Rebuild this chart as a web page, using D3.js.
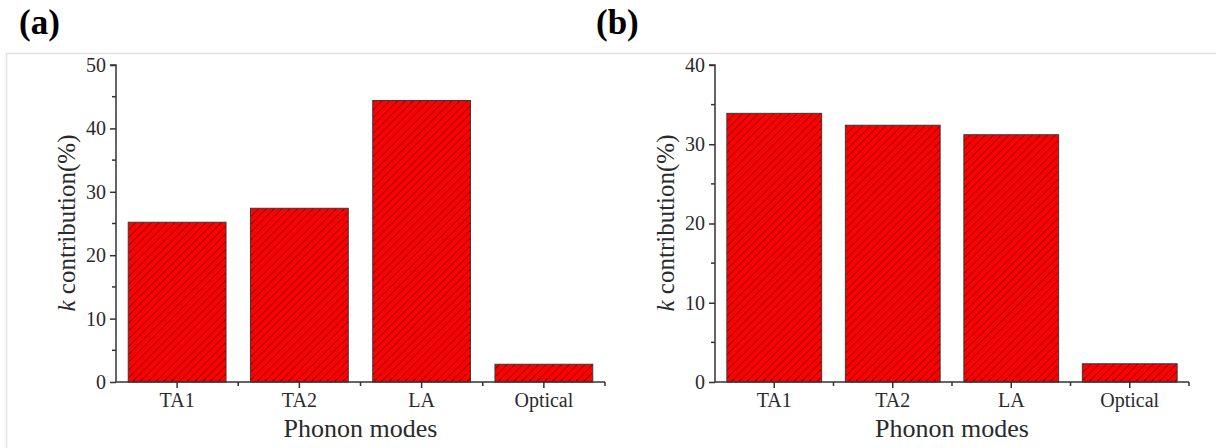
<!DOCTYPE html>
<html><head><meta charset="utf-8">
<script src="https://cdn.jsdelivr.net/npm/d3@7"></script>
<style>body{margin:0;background:#fff}svg{display:block}</style>
</head><body>
<svg id="c" width="1217" height="448"></svg>
<script>
const categories = ["TA1", "TA2", "LA", "Optical"];
const valuesA = [25.2, 27.4, 44.4, 2.8];
const valuesB = [33.9, 32.4, 31.2, 2.3];
const ticksA = [0, 10, 20, 30, 40, 50];
const ticksB = [0, 10, 20, 30, 40];
const panelLabels = ["(a)", "(b)"];
const xTitle = "Phonon modes";

const svg = d3.select("#c");
const defs = svg.append("defs");
const pat = defs.append("pattern").attr("id","hatch").attr("patternUnits","userSpaceOnUse")
  .attr("width",5.5).attr("height",5.5).attr("patternTransform","rotate(45)");
pat.append("rect").attr("width",5.5).attr("height",5.5).attr("fill","#ff0000");
pat.append("line").attr("x1",0).attr("y1",0).attr("x2",0).attr("y2",5.5)
  .attr("stroke","#5a0000").attr("stroke-width",1.3);

// frame
svg.append("path").attr("d","M6.5,448 L6.5,53.5 L1216,53.5").attr("fill","none").attr("stroke","#e2e2e2").attr("stroke-width",1.5);

const serif = "'Liberation Serif','Times New Roman',serif";
const textCol = "#2a2a2a";

function panel(cfg){
  const g = svg.append("g");
  const x = d3.scaleBand().domain(categories).range([cfg.x0, cfg.x1]).paddingInner(0.2).paddingOuter(0.1);
  const y = d3.scaleLinear().domain([0, cfg.max]).range([382, 65]);
  g.selectAll("rect.bar").data(cfg.values).join("rect")
    .attr("x",(d,i)=>x(categories[i])).attr("width",x.bandwidth())
    .attr("y",d=>y(d)).attr("height",d=>y(0)-y(d))
    .attr("fill","url(#hatch)").attr("stroke","#3a3a3a").attr("stroke-width",1);
  const ya = d3.axisLeft(y).tickValues(cfg.ticks).tickSize(6).tickPadding(4).tickFormat(d3.format("d"));
  const yg = g.append("g").attr("transform",`translate(${cfg.x0},0)`).call(ya);
  const minor = d3.range(5, cfg.max, 10);
  g.append("g").selectAll("line").data(minor).join("line")
    .attr("x1",cfg.x0-4).attr("x2",cfg.x0).attr("y1",d=>y(d)).attr("y2",d=>y(d))
    .attr("stroke","#333").attr("stroke-width",1.5);
  const xa = d3.axisBottom(x).tickSize(6).tickPadding(5);
  const xg = g.append("g").attr("transform",`translate(0,${y(0)})`).call(xa);
  const bounds = [1,2,3].map(i=> (x(categories[i-1]) + x.bandwidth() + x(categories[i]))/2);
  bounds.push(cfg.x1);
  g.append("g").selectAll("line").data(bounds).join("line")
    .attr("x1",d=>d).attr("x2",d=>d).attr("y1",y(0)).attr("y2",y(0)+4)
    .attr("stroke","#333").attr("stroke-width",1.5);
  [yg,xg].forEach(a=>{
    a.attr("font-size",null).attr("font-family",null);
    a.select(".domain").attr("stroke","#333").attr("stroke-width",1.5);
    a.selectAll(".tick line").attr("stroke","#333").attr("stroke-width",1.5);
    a.selectAll(".tick text").style("font-family",serif).style("font-size","20px").attr("fill",textCol);
  });
  yg.select(".domain").attr("d",`M-6,${y(cfg.max)}H0V${y(0)}`);
  xg.select(".domain").attr("d",`M${cfg.x0},0H${cfg.x1}`);
  g.append("text").attr("x",(cfg.x0+cfg.x1)/2).attr("y",437).attr("text-anchor","middle")
    .style("font-family",serif).style("font-size","26px").attr("fill",textCol).text(xTitle);
  const yt = g.append("text").attr("transform",`translate(${cfg.ylx},223) rotate(-90)`)
    .attr("text-anchor","middle").style("font-family",serif).style("font-size","25px").attr("fill",textCol);
  yt.append("tspan").attr("font-style","italic").text("k");
  yt.append("tspan").text(" contribution(%)");
  svg.append("text").attr("x",cfg.lx).attr("y",34).style("font-family",serif)
    .attr("font-weight","bold").style("font-size","35px").attr("fill","#000").text(cfg.label);
}
panel({x0:116, x1:605, max:50, ticks:ticksA, values:valuesA, ylx:75, lx:19, label:panelLabels[0]});
panel({x0:715, x1:1189, max:40, ticks:ticksB, values:valuesB, ylx:674, lx:596, label:panelLabels[1]});
</script>
</body></html>
